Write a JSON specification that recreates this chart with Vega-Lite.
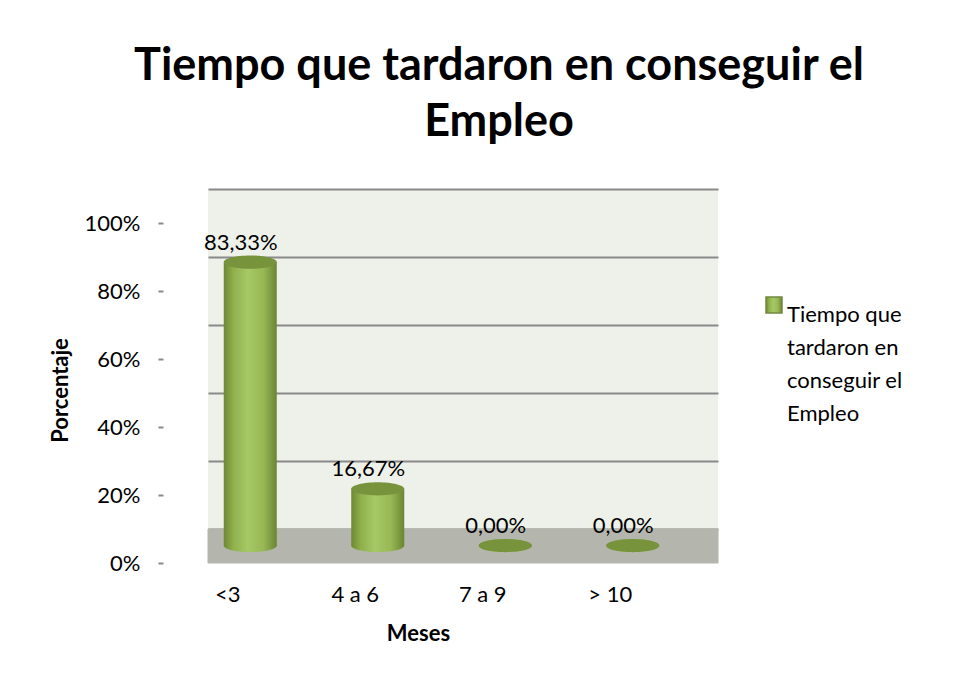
{
  "$schema": "https://vega.github.io/schema/vega-lite/v6.json",
  "width": 510,
  "height": 340,
  "autosize": {"type": "none"},
  "padding": {"left": 208, "top": 189, "right": 257, "bottom": 150},
  "background": "white",
  "title": {
    "text": ["Tiempo que tardaron en conseguir el", "Empleo"],
    "font": "Lato",
    "fontSize": 45,
    "fontWeight": "bold",
    "color": "black",
    "lineHeight": 56,
    "anchor": "middle",
    "dx": 36,
    "offset": 44
  },
  "data": {
    "values": [
      {"meses": "<3", "pct": 0.8333},
      {"meses": "4 a 6", "pct": 0.1667},
      {"meses": "7 a 9", "pct": 0},
      {"meses": "> 10", "pct": 0}
    ]
  },
  "encoding": {
    "x": {
      "field": "meses",
      "type": "nominal",
      "sort": null,
      "scale": {"paddingInner": 0, "paddingOuter": 0},
      "axis": {
        "title": "Meses",
        "titleFont": "Lato",
        "titleFontSize": 22,
        "titleFontWeight": "bold",
        "titleColor": "black",
        "titlePadding": 18,
        "titleX": 210,
        "labelAngle": 0,
        "labelFont": "Lato",
        "labelFontSize": 22,
        "labelColor": "black",
        "labelOffset": -44,
        "labelPadding": 55,
        "ticks": false,
        "domain": false,
        "grid": false
      }
    }
  },
  "layer": [
    {
      "mark": {"type": "rect", "color": "#b4b6ae", "stroke": "#b4b6ae", "strokeWidth": 1},
      "encoding": {
        "y": {
          "datum": -0.1,
          "type": "quantitative",
          "scale": {"domain": [0, 1], "nice": false},
          "axis": {
            "orient": "left",
            "grid": true,
            "gridColor": "#8a8a8a",
            "gridWidth": 2,
            "labels": false,
            "ticks": false,
            "domain": false,
            "title": null,
            "values": [0, 0.2, 0.4, 0.6, 0.8, 1]
          }
        },
        "y2": {"datum": 0}
      }
    },
    {
      "mark": {
        "type": "bar",
        "width": 53,
        "xOffset": -21.5,
        "yOffset": 16.5,
        "y2Offset": 16.5,
        "strokeWidth": 0,
        "color": {
          "gradient": "linear",
          "x1": 0, "x2": 1, "y1": 0, "y2": 0,
          "stops": [
            {"offset": 0, "color": "#6d8834"},
            {"offset": 0.18, "color": "#8fb04c"},
            {"offset": 0.45, "color": "#a7c965"},
            {"offset": 0.75, "color": "#97b855"},
            {"offset": 1, "color": "#6a8532"}
          ]
        }
      },
      "encoding": {
        "y": {
          "field": "pct",
          "type": "quantitative",
          "axis": {
            "orient": "left",
            "offset": 45,
            "grid": false,
            "format": ".0%",
            "values": [0, 0.2, 0.4, 0.6, 0.8, 1],
            "labelFont": "Lato",
            "labelFontSize": 22,
            "labelColor": "black",
            "labelOffset": 0,
            "labelPadding": 18,
            "ticks": true,
            "tickSize": 5,
            "tickOffset": 34,
            "tickColor": "#8a8a8a",
            "tickWidth": 2,
            "domain": false,
            "title": "Porcentaje",
            "titleFont": "Lato",
            "titleFontSize": 22,
            "titleFontWeight": "bold",
            "titleColor": "black",
            "titlePadding": 12,
            "titleY": 201
          }
        },
        "y2": {"datum": 0},
        "stroke": {
          "datum": "Tiempo que tardaron en conseguir el Empleo",
          "type": "nominal",
          "scale": {"range": ["#71893f"]},
          "legend": {
            "orient": "none",
            "legendX": 555,
            "legendY": 105,
            "padding": 0,
            "title": null,
            "symbolType": "square",
            "symbolSize": 256,
            "labelFont": "Lato",
            "labelFontSize": 22,
            "labelColor": "black",
            "labelLimit": 300,
            "labelOffset": 2,
            "labelBaseline": "top",
            "labelExpr": "['Tiempo que', 'tardaron en', 'conseguir el', 'Empleo']",
            "encode": {
              "symbols": {
                "update": {
                  "fill": {"value": "#9bbb59"},
                  "stroke": {"value": "#71893f"},
                  "strokeWidth": {"value": 1.5}
                }
              }
            }
          }
        }
      }
    },
    {
      "mark": {
        "type": "point",
        "filled": true,
        "opacity": 1,
        "strokeWidth": 0,
        "size": 2809,
        "shape": "M -1 0 A 1 0.25 0 1 0 1 0 A 1 0.25 0 1 0 -1 0 Z",
        "xOffset": -21.5,
        "yOffset": 16.5,
        "fill": {
          "gradient": "linear",
          "x1": 0, "x2": 1, "y1": 0, "y2": 0,
          "stops": [
            {"offset": 0, "color": "#6d8834"},
            {"offset": 0.18, "color": "#8fb04c"},
            {"offset": 0.45, "color": "#a7c965"},
            {"offset": 0.75, "color": "#97b855"},
            {"offset": 1, "color": "#6a8532"}
          ]
        }
      },
      "encoding": {
        "y": {"datum": 0, "type": "quantitative", "axis": null}
      }
    },
    {
      "mark": {
        "type": "point",
        "filled": true,
        "opacity": 1,
        "strokeWidth": 0,
        "size": 2809,
        "shape": "M -1 0 A 1 0.25 0 1 0 1 0 A 1 0.25 0 1 0 -1 0 Z",
        "xOffset": -21.5,
        "yOffset": 16.5,
        "color": "#77933c"
      },
      "encoding": {
        "y": {"field": "pct", "type": "quantitative", "axis": null}
      }
    },
    {
      "mark": {
        "type": "text",
        "font": "Lato",
        "fontSize": 22,
        "color": "black",
        "baseline": "middle",
        "xOffset": -31,
        "yOffset": 16.5,
        "dy": -19.5
      },
      "encoding": {
        "y": {"field": "pct", "type": "quantitative", "axis": null},
        "text": {"field": "pct", "type": "quantitative", "format": ".2%"}
      }
    }
  ],
  "resolve": {"axis": {"y": "independent"}},
  "config": {
    "view": {"fill": "#eef1ea", "stroke": null},
    "style": {"guide-label": {"lineHeight": 33}},
    "locale": {
      "number": {
        "decimal": ",",
        "thousands": ".",
        "grouping": [3],
        "currency": ["", " €"]
      }
    }
  }
}
